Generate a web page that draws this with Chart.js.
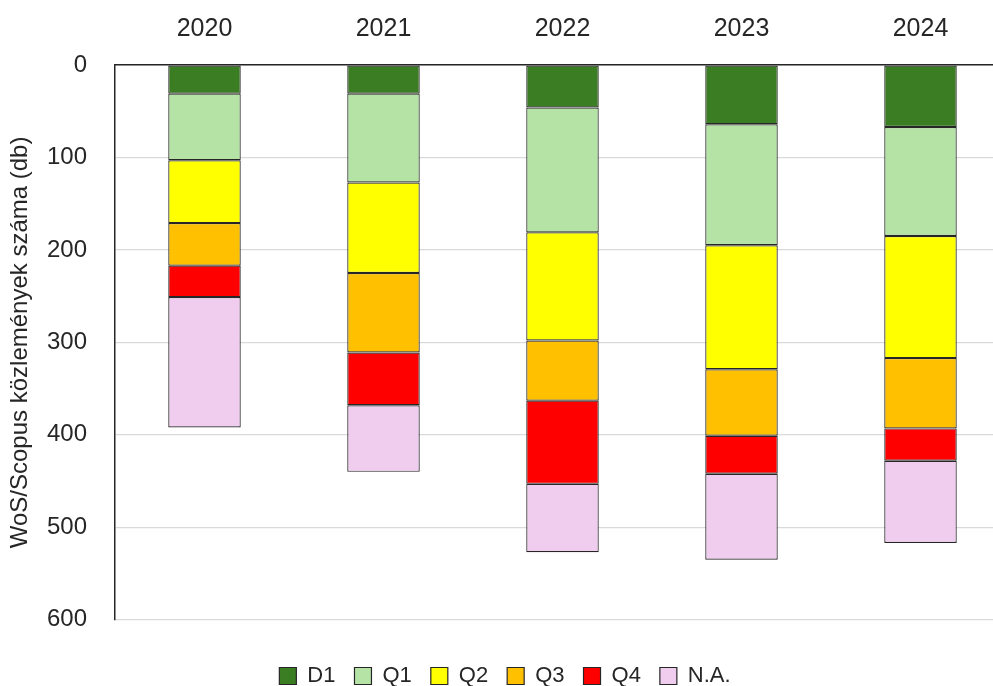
<!DOCTYPE html>
<html lang="hu">
<head>
  <meta charset="UTF-8" />
  <title>WoS/Scopus közlemények</title>
  <style>
    html, body { margin: 0; padding: 0; background: #fff; overflow: hidden; }
    .wrap { width: 1010px; height: 697px; position: relative; }
  </style>
</head>
<body>
  <div class="wrap"><canvas id="chart"></canvas></div>

  <script src="https://cdn.jsdelivr.net/npm/chart.js@4.4.1/dist/chart.umd.min.js"></script>
  <script>
    const years = ['2020', '2021', '2022', '2023', '2024'];
    const d1 = [31, 31, 46, 64, 67];
    const q1 = [72, 96, 135, 131, 118];
    const q2 = [68, 98, 117, 134, 132];
    const q3 = [46, 86, 65, 72, 76];
    const q4 = [34, 57, 90, 41, 35];
    const na = [141, 72, 74, 93, 89];
    const yTicks = [0, 100, 200, 300, 400, 500, 600];

    const series = [
      { label: 'D1', data: d1, color: '#3b7d23' },
      { label: 'Q1', data: q1, color: '#b5e3a5' },
      { label: 'Q2', data: q2, color: '#ffff00' },
      { label: 'Q3', data: q3, color: '#ffc000' },
      { label: 'Q4', data: q4, color: '#ff0000' },
      { label: 'N.A.', data: na, color: '#f0cdee' }
    ];

    Chart.defaults.font.family = '"Liberation Sans", Arial, sans-serif';
    Chart.defaults.color = '#262626';

    new Chart(document.getElementById('chart'), {
      type: 'bar',
      data: {
        labels: years,
        datasets: series.map(s => ({
          label: s.label,
          data: s.data,
          backgroundColor: s.color,
          borderColor: '#262626',
          borderWidth: 1.2,
          borderSkipped: false,
          barPercentage: 0.405,
          categoryPercentage: 1
        }))
      },
      options: {
        responsive: true,
        maintainAspectRatio: false,
        animation: false,
        layout: { padding: 0 },
        plugins: {
          tooltip: { enabled: false },
          legend: {
            position: 'bottom',
            align: 'center',
            // empty title only used as a spacer above the legend row
            title: { display: true, text: ' ', font: { size: 1 }, padding: { top: 0, bottom: 25 } },
            labels: {
              boxWidth: 17,
              boxHeight: 17,
              padding: 19,
              font: { size: 22 },
              color: '#262626'
            }
          }
        },
        scales: {
          x: {
            position: 'top',
            stacked: true,
            grid: { display: false, drawTicks: false },
            border: { display: true, color: '#262626', width: 1.5 },
            ticks: { font: { size: 25 }, color: '#262626', padding: 21 },
            afterFit: s => { s.height = 65; }
          },
          y: {
            stacked: true,
            reverse: true,
            min: 0,
            max: 600,
            afterBuildTicks: s => { s.ticks = yTicks.map(v => ({ value: v })); },
            grid: { color: '#d9d9d9', lineWidth: 1.2, drawTicks: false },
            border: { display: true, color: '#262626', width: 1.5 },
            ticks: { font: { size: 24 }, color: '#262626', padding: 28 },
            title: {
              display: true,
              text: 'WoS/Scopus közlemények száma (db)',
              font: { size: 24 },
              color: '#262626',
              padding: { top: 6, bottom: 0 }
            },
            afterFit: s => { s.width = 115; }
          }
        }
      }
    });
  </script>
</body>
</html>
